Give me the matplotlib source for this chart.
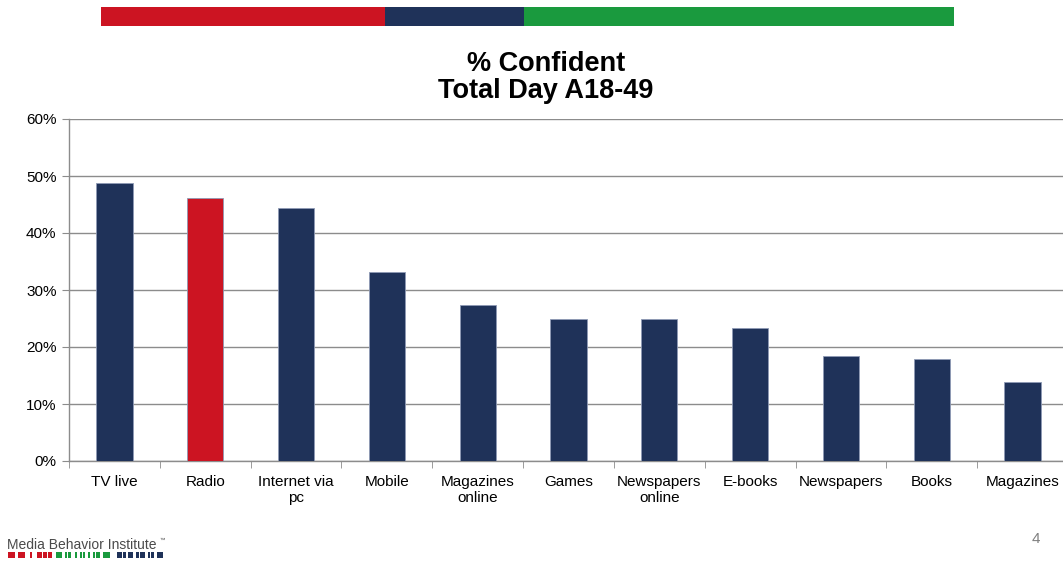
import matplotlib
matplotlib.use("Agg")
import matplotlib.pyplot as plt
from matplotlib.patches import Rectangle
from matplotlib.ticker import FixedLocator, NullFormatter

plt.rcParams['font.family'] = ['Liberation Sans', 'DejaVu Sans']

categories = ["TV live", "Radio", "Internet via\npc", "Mobile", "Magazines\nonline",
              "Games", "Newspapers\nonline", "E-books", "Newspapers", "Books", "Magazines"]
values = [48.8, 46.1, 44.4, 33.1, 27.3, 25.0, 24.9, 23.3, 18.5, 17.9, 13.9]
highlight = "Radio"
y_ticks = [0, 10, 20, 30, 40, 50, 60]

NAVY = "#1F3259"
RED = "#CC1422"
GREEN = "#1A9A3E"

W, H = 1063, 563
fig = plt.figure(figsize=(W / 100, H / 100), dpi=100)

# main bar chart
left, right, top, bottom = 69, 1068, 119, 461
ax = fig.add_axes([left / W, 1 - bottom / H, (right - left) / W, (bottom - top) / H])
x = list(range(len(categories)))
colors = [RED if c == highlight else NAVY for c in categories]
ax.bar(x, values, width=0.4, color=colors, edgecolor="#8E9AB5", linewidth=0.6, zorder=3)
ax.set_xlim(-0.5, len(categories) - 0.5)
ax.set_ylim(0, 60)
ax.set_yticks(y_ticks)
ax.set_yticklabels([f"{t}%" for t in y_ticks], fontsize=11)
ax.yaxis.grid(True, color="#8C8C8C", linewidth=1.0, zorder=0)
ax.set_xticks(x)
ax.set_xticklabels(categories, fontsize=11, linespacing=1.2)
ax.xaxis.set_minor_locator(FixedLocator([i - 0.5 for i in range(len(categories) + 1)]))
ax.xaxis.set_minor_formatter(NullFormatter())
ax.tick_params(axis="x", which="major", length=0, pad=10)
ax.tick_params(axis="x", which="minor", length=5, color="#8C8C8C")
ax.tick_params(axis="y", length=5, color="#8C8C8C", pad=4)
for s in ["top", "right"]:
    ax.spines[s].set_visible(False)
for s in ["left", "bottom"]:
    ax.spines[s].set_color("#8C8C8C")
    ax.spines[s].set_linewidth(1.0)

fig.text(546 / W, 1 - 64 / H, "% Confident", ha="center", va="center",
         fontsize=19.5, fontweight="bold")
fig.text(546 / W, 1 - 91 / H, "Total Day A18-49", ha="center", va="center",
         fontsize=19.5, fontweight="bold")

# colour band across the top
band = fig.add_axes([0, 0, 1, 1], zorder=-1)
band.set_xlim(0, W)
band.set_ylim(H, 0)
band.axis("off")
for x0, x1, c in [(101, 385, RED), (385, 524, NAVY), (524, 954, GREEN)]:
    band.add_patch(Rectangle((x0, 7), x1 - x0, 19, color=c, lw=0))

# institute logo
band.text(7, 545, "Media Behavior Institute", fontsize=10, color="#4A4A4A",
          va="center", ha="left")
band.text(160, 540, "™", fontsize=4, color="#4A4A4A", va="center")
blocks = [(8, 7, RED), (18, 7, RED), (30, 2, RED), (37, 5, RED), (43, 4, RED), (48, 4, RED),
          (56, 6, GREEN), (65, 2, GREEN), (68, 3, GREEN), (75, 2, GREEN), (80, 2, GREEN),
          (83, 2, GREEN), (88, 2, GREEN), (93, 2, GREEN), (96, 4, GREEN), (103, 7, GREEN),
          (117, 5, NAVY), (123, 3, NAVY), (128, 5, NAVY), (136, 3, NAVY), (140, 5, NAVY),
          (148, 2, NAVY), (151, 3, NAVY), (157, 6, NAVY)]
for bx, bw, c in blocks:
    band.add_patch(Rectangle((bx, 552), bw, 6, color=c, lw=0))

band.text(1036, 539, "4", fontsize=11, color="#7F7F7F", ha="center", va="center")

fig.savefig("out.png", dpi=100)
